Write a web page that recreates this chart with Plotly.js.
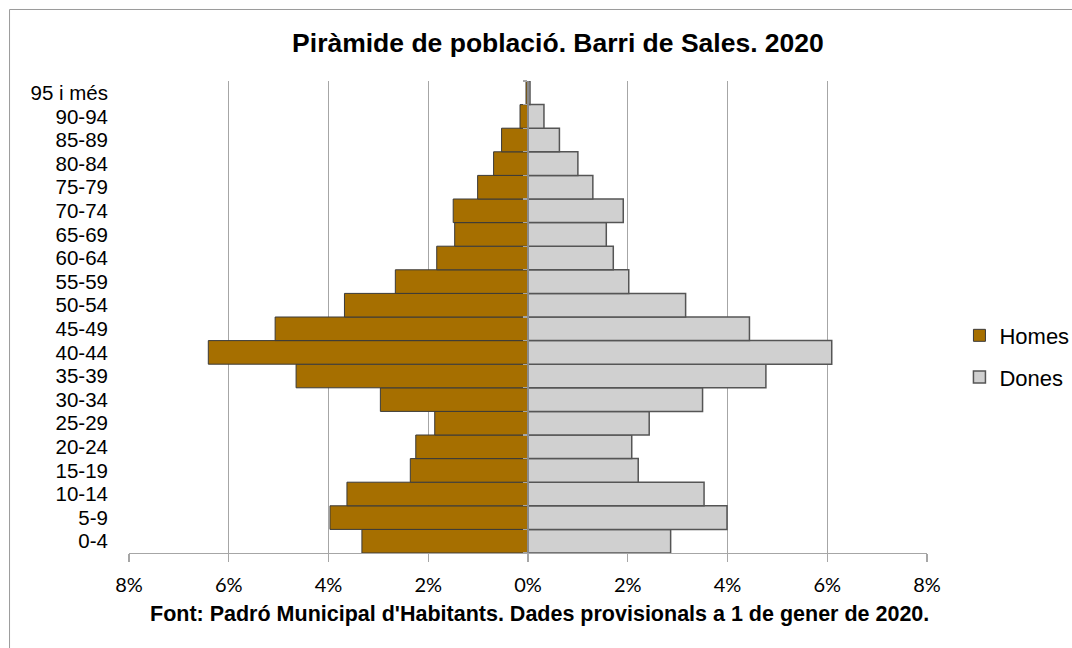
<!DOCTYPE html>
<html>
<head>
<meta charset="utf-8">
<script src="https://cdn.plot.ly/plotly-3.0.1.min.js"></script>
<style>html,body{margin:0;padding:0;background:#fff;}#chart{width:1072px;height:648px;}</style>
</head>
<body>
<div id="chart"></div>
<script>
const ageGroups = ["0-4","5-9","10-14","15-19","20-24","25-29","30-34","35-39","40-44","45-49","50-54","55-59","60-64","65-69","70-74","75-79","80-84","85-89","90-94","95 i més"];
const homes = [3.33,3.97,3.63,2.36,2.25,1.87,2.96,4.65,6.41,5.07,3.68,2.66,1.83,1.47,1.50,1.01,0.69,0.53,0.16,0.04];
const dones = [2.86,3.99,3.53,2.21,2.08,2.43,3.50,4.77,6.09,4.44,3.16,2.02,1.71,1.57,1.91,1.30,1.00,0.63,0.32,0.04];
const tickValues = [-8,-6,-4,-2,0,2,4,6,8];
const tickLabels = ["8%","6%","4%","2%","0%","2%","4%","6%","8%"];
const titleText = "Piràmide de població. Barri de Sales. 2020";
const sourceText = "Font: Padró Municipal d'Habitants. Dades provisionals a 1 de gener de 2020.";

const traces = [
  {type:"bar", orientation:"h", name:"Homes", y:ageGroups, x:homes.map(v=>-v),
   legendgroup:"h",
   marker:{color:"#A66F00", line:{color:"#3a3a3a", width:1}}, hoverinfo:"none"},
  {type:"bar", orientation:"h", name:"Dones", y:ageGroups, x:dones, yaxis:"y2",
   legendgroup:"d",
   marker:{color:"#D0D0D0", line:{color:"#555555", width:1.5}}, hoverinfo:"none"}
];

const layout = {
  width:1072, height:648,
  margin:{l:129, r:145, t:81, b:95},
  paper_bgcolor:"#ffffff", plot_bgcolor:"#ffffff",
  barmode:"overlay", bargap:0,
  font:{family:"Liberation Sans, Arial, sans-serif", color:"#000"},
  title:{text:titleText, x:0.5205, xref:"container", xanchor:"center", y:0.934, yref:"container", yanchor:"middle",
         font:{size:26.5, weight:700, family:"Liberation Sans, Arial, sans-serif", color:"#000"}},
  xaxis:{range:[-8,8], tickvals:tickValues, ticktext:tickLabels, showgrid:true, gridcolor:"#a6a6a6", gridwidth:1.3,
         showline:true, linecolor:"#a6a6a6", linewidth:1.3, ticks:"outside", ticklen:8, tickcolor:"#a6a6a6", tickwidth:1.3,
         zeroline:true, zerolinecolor:"#8a8a8a", zerolinewidth:2,
         tickfont:{family:"Lato, Open Sans, sans-serif", size:20, color:"#000"}, ticklabelstandoff:6, fixedrange:true},
  yaxis:{type:"category", range:[-0.5,19.5], tickmode:"array", tickvals:ageGroups, ticktext:ageGroups,
         showgrid:false, showline:false, ticks:"", zeroline:false,
         tickfont:{family:"Liberation Sans, Arial, sans-serif", size:20.5, color:"#000"}, ticklabelstandoff:20, fixedrange:true},
  yaxis2:{type:"category", overlaying:"y", anchor:"free", position:0.5, side:"left", range:[-0.5,19.5],
          showgrid:false, zeroline:false, showticklabels:false, showline:true, linecolor:"#8a8a8a", linewidth:2,
          ticks:"outside", tickson:"boundaries", ticklen:4, tickcolor:"#a6a6a6", tickwidth:1.3, fixedrange:true},
  legend:{xref:"container", yref:"container", x:0.895, xanchor:"left", y:0.4498, yanchor:"middle", traceorder:"grouped", tracegroupgap:10,
          font:{family:"Liberation Sans, Arial, sans-serif", size:22, color:"#000"}, bgcolor:"rgba(0,0,0,0)"},
  annotations:[{text:sourceText, xref:"paper", yref:"paper", x:0.5138, y:-0.129, xanchor:"center", yanchor:"middle",
                showarrow:false, font:{size:21.5, weight:700, family:"Liberation Sans, Arial, sans-serif", color:"#000"}}],
  shapes:[{type:"rect", xref:"paper", yref:"paper", x0:-0.1497, x1:1.3, y0:-0.3, y1:1.1515,
           line:{color:"#9a9a9a", width:1}, fillcolor:"rgba(0,0,0,0)", layer:"below"}]
};

Plotly.newPlot("chart", traces, layout, {displayModeBar:false, staticPlot:true});
</script>
</body>
</html>
